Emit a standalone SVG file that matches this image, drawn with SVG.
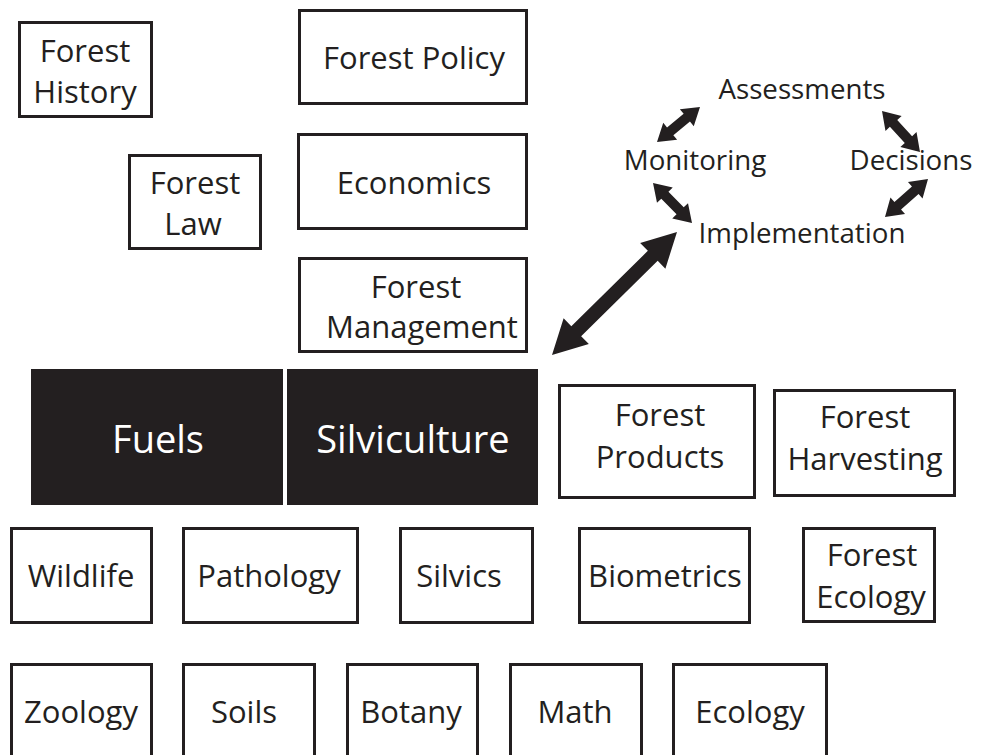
<svg xmlns="http://www.w3.org/2000/svg" width="985" height="755" viewBox="0 0 985 755">
<style>
.box{fill:#fff;stroke:#231f20;stroke-width:3}
.dark{fill:#231f20;stroke:none}
.t{font-family:"Open Sans","Noto Sans","Liberation Sans",sans-serif;font-size:31px;fill:#231f20;text-anchor:middle}
.big{font-size:38px;fill:#fff}
.cy{font-size:27.7px}
.arr{fill:#231f20;stroke:none}
</style>
<rect width="985" height="755" fill="#fff"/>
<g id="forest-history"><rect class="box" x="19.5" y="22.5" width="132" height="94"/><text class="t" x="85" y="62">Forest</text><text class="t" x="85" y="103">History</text></g>
<g id="forest-policy"><rect class="box" x="299.5" y="10.5" width="227" height="93"/><text class="t" x="414" y="69">Forest Policy</text></g>
<g id="forest-law"><rect class="box" x="129.5" y="155.5" width="131" height="93"/><text class="t" x="195" y="194">Forest</text><text class="t" x="193" y="235">Law</text></g>
<g id="economics"><rect class="box" x="298.5" y="134.5" width="228" height="94"/><text class="t" x="414" y="194">Economics</text></g>
<g id="forest-management"><rect class="box" x="299.5" y="258.5" width="227" height="93"/><text class="t" x="416" y="298">Forest</text><text class="t" x="422" y="338">Management</text></g>
<g id="fuels"><rect class="dark" x="31" y="369" width="252" height="136"/><text class="t big" x="158" y="453">Fuels</text></g>
<g id="silviculture"><rect class="dark" x="287" y="369" width="251" height="136"/><text class="t big" x="413" y="453">Silviculture</text></g>
<g id="forest-products"><rect class="box" x="559.5" y="385.5" width="195" height="112"/><text class="t" x="660" y="426">Forest</text><text class="t" x="660" y="468">Products</text></g>
<g id="forest-harvesting"><rect class="box" x="774.5" y="390.5" width="180" height="105"/><text class="t" x="865" y="428">Forest</text><text class="t" x="865" y="470">Harvesting</text></g>
<g id="wildlife"><rect class="box" x="11.5" y="528.5" width="140" height="94"/><text class="t" x="81" y="587">Wildlife</text></g>
<g id="pathology"><rect class="box" x="183.5" y="528.5" width="174" height="94"/><text class="t" x="269" y="587">Pathology</text></g>
<g id="silvics"><rect class="box" x="400.5" y="528.5" width="132" height="94"/><text class="t" x="459" y="587">Silvics</text></g>
<g id="biometrics"><rect class="box" x="579.5" y="528.5" width="170" height="94"/><text class="t" x="665" y="587">Biometrics</text></g>
<g id="forest-ecology"><rect class="box" x="803.5" y="528.5" width="131" height="93"/><text class="t" x="872" y="566">Forest</text><text class="t" x="871" y="608">Ecology</text></g>
<g id="zoology"><rect class="box" x="11.5" y="664.5" width="140" height="100"/><text class="t" x="81" y="723">Zoology</text></g>
<g id="soils"><rect class="box" x="183.5" y="664.5" width="131" height="100"/><text class="t" x="244" y="723">Soils</text></g>
<g id="botany"><rect class="box" x="347.5" y="664.5" width="130" height="100"/><text class="t" x="411" y="723">Botany</text></g>
<g id="math"><rect class="box" x="510.5" y="664.5" width="131" height="100"/><text class="t" x="575" y="723">Math</text></g>
<g id="ecology"><rect class="box" x="673.5" y="664.5" width="153" height="100"/><text class="t" x="750" y="723">Ecology</text></g>
<g id="assessments"><text class="t cy" x="802" y="99">Assessments</text></g>
<g id="monitoring"><text class="t cy" x="695" y="170">Monitoring</text></g>
<g id="decisions"><text class="t cy" x="911" y="170">Decisions</text></g>
<g id="implementation"><text class="t cy" x="802" y="243">Implementation</text></g>
<g id="connectors">
<polygon class="arr" points="552,355 588.85,343.99 581.14,336.15 657.68,260.83 665.39,268.67 677,232 640.15,243.01 647.86,250.85 571.32,326.17 563.61,318.33"/>
<polygon class="arr" points="657,142 677.13,139.80 673.35,135.15 689.97,121.61 693.75,126.26 700,107 679.87,109.20 683.65,113.85 667.03,127.39 663.25,122.74"/>
<polygon class="arr" points="653,183 656.99,202.85 661.29,198.66 676.55,214.32 672.25,218.51 692,223 688.01,203.15 683.71,207.34 668.45,191.68 672.75,187.49"/>
<polygon class="arr" points="882,111 885.49,130.95 889.89,126.87 904.77,142.93 900.37,147.01 920,152 916.51,132.05 912.11,136.13 897.23,120.07 901.63,115.99"/>
<polygon class="arr" points="885,217 905.03,213.98 901.05,209.49 918.57,194.01 922.55,198.50 928,179 907.97,182.02 911.95,186.51 894.43,201.99 890.45,197.50"/>
</g>
</svg>
